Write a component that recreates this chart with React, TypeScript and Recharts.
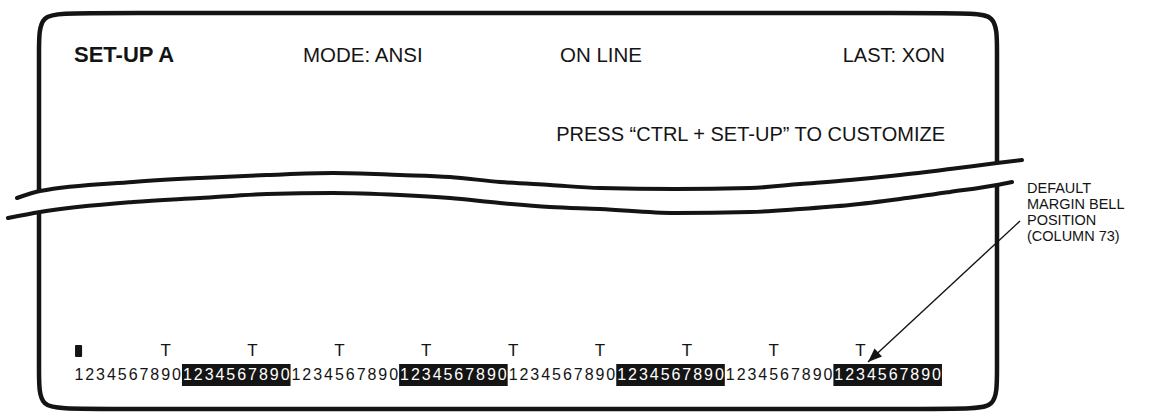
import { ComposedChart, Line, Scatter, XAxis, YAxis, ReferenceArea } from 'recharts'

const W = 1170
const H = 413
const FONT = "'Liberation Sans', Arial, Helvetica, sans-serif"
const INK = '#141414'

// screen frame, split in two at the break (y grows downwards)
const frameTop = [
  { x: 39, y: 191 }, { x: 39, y: 120 }, { x: 39, y: 48 }, { x: 39, y: 13 },
  { x: 74, y: 13 }, { x: 500, y: 13 }, { x: 962, y: 13 }, { x: 997, y: 13 },
  { x: 997, y: 48 }, { x: 997, y: 110 }, { x: 997, y: 163 },
]
const frameBottom = [
  { x: 39, y: 212 }, { x: 39, y: 300 }, { x: 39, y: 374 }, { x: 39, y: 409 },
  { x: 74, y: 409 }, { x: 500, y: 409 }, { x: 962, y: 409 }, { x: 997, y: 409 },
  { x: 997, y: 374 }, { x: 997, y: 300 }, { x: 997, y: 185 },
]

// the two wavy break lines
const breakUpper = [
  { x: 17, y: 198 }, { x: 40, y: 191 }, { x: 133, y: 182 }, { x: 200, y: 178 },
  { x: 267, y: 175 }, { x: 333, y: 173 }, { x: 400, y: 175 }, { x: 450, y: 177 },
  { x: 500, y: 182 }, { x: 550, y: 185 }, { x: 600, y: 188 }, { x: 675, y: 189 },
  { x: 750, y: 188 }, { x: 800, y: 184 }, { x: 850, y: 180 }, { x: 900, y: 175 },
  { x: 950, y: 169 }, { x: 997, y: 163 }, { x: 1022, y: 160 },
]
const breakLower = [
  { x: 8, y: 218 }, { x: 40, y: 212 }, { x: 133, y: 202 }, { x: 200, y: 198 },
  { x: 267, y: 194 }, { x: 333, y: 193 }, { x: 400, y: 195 }, { x: 450, y: 198 },
  { x: 500, y: 203 }, { x: 550, y: 207 }, { x: 600, y: 209 }, { x: 675, y: 213 },
  { x: 750, y: 212 }, { x: 800, y: 209 }, { x: 850, y: 205 }, { x: 900, y: 199 },
  { x: 950, y: 192 }, { x: 997, y: 185 }, { x: 1012, y: 182 },
]

// status line texts
const titleLabel = [{ x: 74, y: 62, text: 'SET-UP A' }]
const statusLabels = [
  { x: 303, y: 62, text: 'MODE: ANSI' },
  { x: 560, y: 62, text: 'ON LINE' },
]
const rightLabels = [
  { x: 945, y: 62, text: 'LAST: XON' },
  { x: 945, y: 141, text: 'PRESS \u201CCTRL + SET-UP\u201D TO CUSTOMIZE' },
]

// callout on the right
const noteLines = ['DEFAULT', 'MARGIN BELL', 'POSITION', '(COLUMN 73)']
const noteBaselines = [193, 209, 225, 241]
const bellArrow = [{ x: 1020, y: 221 }, { x: 868, y: 362 }]

// ruler: 8 groups of ten columns, every other one shown in reverse video
const digitGroups = [
  { digits: '1234567890', inverse: false },
  { digits: '1234567890', inverse: true },
  { digits: '1234567890', inverse: false },
  { digits: '1234567890', inverse: true },
  { digits: '1234567890', inverse: false },
  { digits: '1234567890', inverse: true },
  { digits: '1234567890', inverse: false },
  { digits: '1234567890', inverse: true },
]
const tabColumns = [9, 17, 25, 33, 41, 49, 57, 65, 73]
const cursorColumn = 1

// column axis: column edge 0.5 sits at x=73.4, one column is 10.857px
const COL_LEFT = 73.4
const COL_PITCH = 10.857
const colDomain = [0.5 - COL_LEFT / COL_PITCH, 0.5 + (W - COL_LEFT) / COL_PITCH]

const RULER_BASE = 380
const TAB_BASE = 356

const cells = digitGroups.flatMap((g, gi) =>
  g.digits.split('').map((d, i) => ({ x: gi * 10 + i + 1, y: RULER_BASE, text: d, inverse: g.inverse })),
)
const tabs = tabColumns.map((c) => ({ x: c, y: TAB_BASE, text: 'T' }))

const arrowAngle =
  (Math.atan2(bellArrow[1].y - bellArrow[0].y, bellArrow[1].x - bellArrow[0].x) * 180) / Math.PI

function textShape(size: number, weight: string, anchor: string, fill?: (p: any) => string) {
  return (p: any) => (
    <text
      x={p.cx}
      y={p.cy}
      fontFamily={FONT}
      fontSize={size}
      fontWeight={weight}
      textAnchor={anchor}
      fill={fill ? fill(p.payload) : INK}
    >
      {p.payload.text}
    </text>
  )
}

export default function App() {
  const notes = noteLines.map((t, i) => ({ x: 1027, y: noteBaselines[i], text: t }))

  return (
    <div style={{ width: W, height: H, background: '#fff' }}>
      <style>{'body{margin:0}'}</style>
      <ComposedChart width={W} height={H} margin={{ top: 0, right: 0, bottom: 0, left: 0 }}>
        <XAxis xAxisId="px" type="number" dataKey="x" domain={[0, W]} allowDataOverflow hide />
        <XAxis xAxisId="col" type="number" dataKey="x" domain={colDomain} allowDataOverflow hide />
        <YAxis type="number" dataKey="y" domain={[0, H]} reversed allowDataOverflow hide />

        <Line xAxisId="px" data={frameTop} dataKey="y" type="basis" stroke={INK} strokeWidth={4.5}
          dot={false} activeDot={false} isAnimationActive={false} />
        <Line xAxisId="px" data={frameBottom} dataKey="y" type="basis" stroke={INK} strokeWidth={4.5}
          dot={false} activeDot={false} isAnimationActive={false} />
        <Line xAxisId="px" data={breakUpper} dataKey="y" type="monotone" stroke={INK} strokeWidth={4}
          strokeLinecap="round" dot={false} activeDot={false} isAnimationActive={false} />
        <Line xAxisId="px" data={breakLower} dataKey="y" type="monotone" stroke={INK} strokeWidth={4}
          strokeLinecap="round" dot={false} activeDot={false} isAnimationActive={false} />

        {digitGroups.map((g, gi) =>
          g.inverse ? (
            <ReferenceArea key={gi} xAxisId="col" x1={gi * 10 + 0.5} x2={gi * 10 + 10.5} y1={364} y2={386}
              fill={INK} fillOpacity={1} stroke="none" />
          ) : null,
        )}
        <ReferenceArea xAxisId="col" x1={cursorColumn - 0.35} x2={cursorColumn + 0.3} y1={345} y2={357}
          fill={INK} fillOpacity={1} stroke="none" radius={1} />

        <Scatter xAxisId="col" data={cells} isAnimationActive={false}
          shape={textShape(16, 'normal', 'middle', (d) => (d.inverse ? '#fff' : INK))} />
        <Scatter xAxisId="col" data={tabs} isAnimationActive={false} shape={textShape(17, 'normal', 'middle')} />

        <Scatter xAxisId="px" data={titleLabel} isAnimationActive={false} shape={textShape(22, 'bold', 'start')} />
        <Scatter xAxisId="px" data={statusLabels} isAnimationActive={false} shape={textShape(20.5, 'normal', 'start')} />
        <Scatter xAxisId="px" data={rightLabels} isAnimationActive={false} shape={textShape(20, 'normal', 'end')} />
        <Scatter xAxisId="px" data={notes} isAnimationActive={false} shape={textShape(14.5, 'normal', 'start')} />

        <Line xAxisId="px" data={bellArrow} dataKey="y" type="linear" stroke={INK} strokeWidth={1.4}
          dot={false} activeDot={false} isAnimationActive={false} />
        <Scatter
          xAxisId="px"
          data={bellArrow.slice(1)}
          isAnimationActive={false}
          shape={(p: any) => (
            <polygon
              points="0,0 -14,-5.5 -14,5.5"
              fill={INK}
              transform={`translate(${p.cx},${p.cy}) rotate(${arrowAngle})`}
            />
          )}
        />
      </ComposedChart>
    </div>
  )
}
